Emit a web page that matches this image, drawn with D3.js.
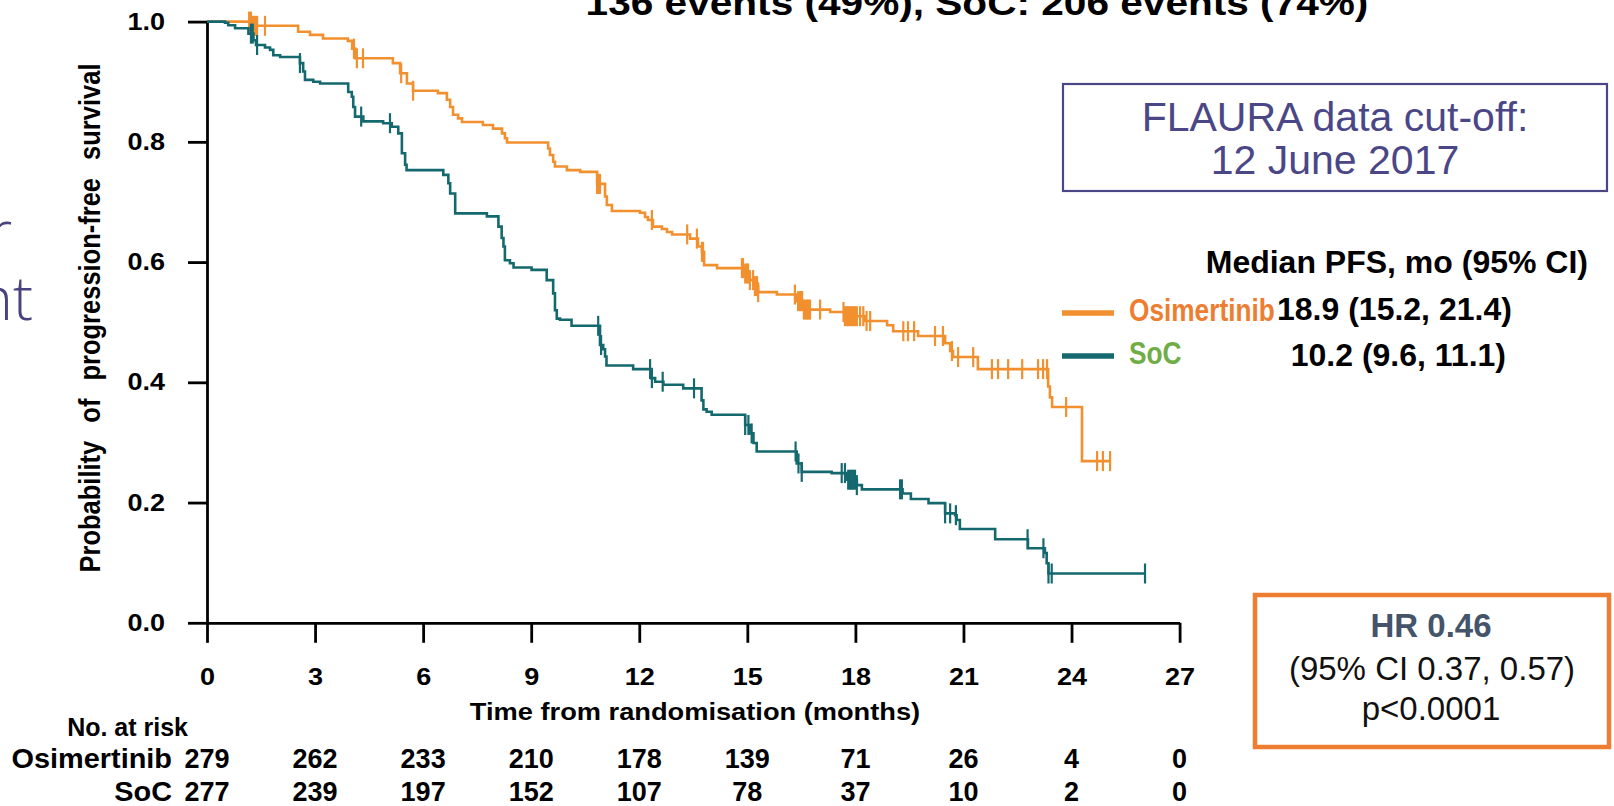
<!DOCTYPE html>
<html><head><meta charset="utf-8">
<script src="https://cdn.jsdelivr.net/npm/d3@7"></script>
<style>body{margin:0;background:#fff} svg{display:block}</style>
</head><body><svg id="c" width="1614" height="806"></svg>
<script>
// ---------------- data ----------------
const riskTimes = [0, 3, 6, 9, 12, 15, 18, 21, 24, 27];
const yTicks = [0, 0.2, 0.4, 0.6, 0.8, 1.0];
const osiRisk = [279, 262, 233, 210, 178, 139, 71, 26, 4, 0];
const socRisk = [277, 239, 197, 152, 107, 78, 37, 10, 2, 0];

const osiTime = [1.28, 2.53, 2.86, 3.22, 3.91, 4.03, 4.11, 5.16, 5.36, 5.55, 5.72, 6.41, 6.66, 6.75, 6.83, 6.97, 7.08, 7.66, 7.94, 8.19, 8.27, 8.33, 9.47, 9.52, 9.61, 9.66, 9.99, 10.36, 10.83, 11.05, 11.10, 11.24, 12.02, 12.16, 12.24, 12.38, 12.63, 12.77, 12.91, 13.41, 13.63, 13.74, 13.80, 14.16, 14.94, 15.07, 15.21, 15.30, 15.82, 16.38, 16.55, 17.30, 17.71, 18.27, 18.88, 19.05, 19.74, 20.49, 20.63, 20.71, 21.40, 23.35, 23.40, 23.46, 24.29];
const osiSurv = [0.993, 0.983, 0.978, 0.972, 0.968, 0.955, 0.939, 0.931, 0.914, 0.897, 0.885, 0.881, 0.870, 0.858, 0.845, 0.839, 0.833, 0.828, 0.822, 0.814, 0.806, 0.799, 0.789, 0.778, 0.767, 0.759, 0.753, 0.750, 0.730, 0.709, 0.695, 0.685, 0.682, 0.675, 0.670, 0.659, 0.655, 0.650, 0.646, 0.639, 0.626, 0.617, 0.595, 0.590, 0.581, 0.570, 0.560, 0.550, 0.546, 0.535, 0.521, 0.517, 0.510, 0.502, 0.495, 0.485, 0.477, 0.465, 0.452, 0.442, 0.422, 0.393, 0.375, 0.359, 0.269];
const osiEnd = 25.07;
const osiCensor = [1.17, 1.22, 1.28, 1.33, 1.39, 1.61, 4.08, 4.16, 4.33, 5.39, 5.72, 10.83, 10.88, 10.91, 12.35, 13.33, 13.60, 13.74, 13.77, 14.85, 14.88, 14.94, 14.99, 15.02, 15.07, 15.16, 15.21, 15.27, 15.30, 16.32, 16.41, 16.46, 16.49, 16.52, 16.57, 16.62, 16.66, 16.70, 16.74, 17.02, 17.67, 17.71, 17.76, 17.80, 17.85, 17.90, 17.94, 17.99, 18.04, 18.13, 18.22, 18.31, 18.41, 19.33, 19.46, 19.63, 20.21, 20.43, 20.68, 20.85, 21.27, 21.79, 21.96, 22.24, 22.63, 23.07, 23.21, 23.32, 23.85, 24.71, 24.87, 25.07];

const socTime = [0.50, 0.59, 0.78, 1.15, 1.29, 1.36, 1.61, 1.75, 1.84, 2.03, 2.58, 2.67, 2.72, 2.95, 3.14, 3.92, 4.02, 4.06, 4.11, 4.34, 4.89, 5.13, 5.31, 5.41, 5.50, 5.54, 6.56, 6.70, 6.75, 6.89, 7.77, 8.09, 8.18, 8.23, 8.27, 8.41, 8.51, 9.01, 9.43, 9.61, 9.66, 9.71, 9.80, 10.12, 10.91, 11.00, 11.05, 11.09, 11.83, 12.34, 12.44, 12.67, 13.22, 13.73, 13.78, 13.87, 14.01, 14.94, 15.07, 15.17, 15.26, 16.37, 16.51, 17.34, 17.76, 18.04, 18.18, 19.31, 19.54, 20.03, 20.49, 20.77, 20.81, 20.90, 21.88, 22.79, 23.26, 23.31, 23.36];
const socSurv = [0.998, 0.994, 0.989, 0.980, 0.969, 0.961, 0.957, 0.953, 0.944, 0.941, 0.931, 0.917, 0.903, 0.900, 0.897, 0.883, 0.875, 0.858, 0.842, 0.834, 0.831, 0.825, 0.814, 0.781, 0.762, 0.753, 0.745, 0.731, 0.714, 0.681, 0.676, 0.659, 0.640, 0.626, 0.603, 0.598, 0.591, 0.587, 0.570, 0.548, 0.520, 0.506, 0.504, 0.494, 0.462, 0.455, 0.443, 0.428, 0.422, 0.407, 0.401, 0.396, 0.390, 0.370, 0.355, 0.351, 0.346, 0.329, 0.315, 0.299, 0.285, 0.265, 0.251, 0.249, 0.238, 0.229, 0.222, 0.215, 0.206, 0.199, 0.182, 0.179, 0.171, 0.156, 0.139, 0.124, 0.116, 0.099, 0.082];
const socEnd = 26.04;
const socCensor = [1.22, 1.27, 1.39, 2.58, 4.28, 5.08, 10.86, 10.94, 12.30, 12.35, 12.65, 13.52, 14.94, 15.03, 15.12, 16.34, 16.42, 16.51, 17.62, 17.71, 17.80, 17.85, 17.90, 17.94, 17.99, 18.04, 19.24, 19.29, 20.49, 20.63, 20.79, 22.78, 23.22, 23.36, 23.45, 26.04];

const seriesNames = ["Osimertinib", "SoC"];
const medianText = ["18.9 (15.2, 21.4)", "10.2 (9.6, 11.1)"];

// ---------------- drawing ----------------
const FONT = "'Liberation Sans', Arial, Helvetica, sans-serif";
const ORANGE = "#F2902F", TEAL = "#14696F";
const svg = d3.select("#c");
const x = d3.scaleLinear().domain([0, 27]).range([207, 1179.6]);
const y = d3.scaleLinear().domain([0, 1]).range([622.8, 21.6]);

function txt(p, px, py, s, o = {}) {
  const sx = o.sx || 1;
  return p.append("text")
    .attr("transform", `translate(${px},${py}) scale(${sx},1)`)
    .attr("text-anchor", o.anchor || "start")
    .attr("font-family", o.family || FONT)
    .attr("font-size", o.size || 23)
    .attr("font-weight", o.weight || "normal")
    .attr("fill", o.fill || "#000")
    .attr("word-spacing", o.ws || 0)
    .text(s);
}

// remnants of slide title on the left (cut off by the frame)
txt(svg, 12, 253, "r", {size: 58, fill: "#48437F", anchor: "end", family: "'Open Sans', 'Noto Sans', sans-serif", weight: 300});
txt(svg, 33, 320, "nt", {size: 60, fill: "#48437F", anchor: "end", family: "'Open Sans', 'Noto Sans', sans-serif", weight: 300});

// title (cut off at top)
txt(svg, 977, 15, "136 events (49%), SoC: 206 events (74%)", {size: 35, weight: "bold", anchor: "middle", sx: 1.16});

// axes
const yAx = svg.append("g").attr("transform", "translate(207,0)")
  .call(d3.axisLeft(y).tickValues(yTicks).tickFormat(d3.format(".1f")).tickSize(19).tickSizeOuter(0));
const xAx = svg.append("g").attr("transform", "translate(0,622.8)")
  .call(d3.axisBottom(x).tickValues(riskTimes).tickFormat(d3.format("d")).tickSize(20).tickSizeOuter(0));
[yAx, xAx].forEach(g => {
  g.selectAll("path,line").attr("stroke", "#000").attr("stroke-width", 2.8);
  g.selectAll("text").attr("font-family", FONT).attr("font-size", 23.5).attr("font-weight", "bold").attr("fill", "#000");
});
yAx.selectAll("text").attr("x", -42 / 1.15).attr("transform", "scale(1.15,1)");
xAx.selectAll("text").attr("y", 62).attr("dy", 0).attr("transform", "scale(1.15,1)");

// axis titles
txt(svg, 695, 720, "Time from randomisation  (months)", {size: 23.7, weight: "bold", anchor: "middle", sx: 1.15});
svg.append("text")
  .attr("transform", "translate(100,318) rotate(-90) scale(1,1.15)")
  .attr("text-anchor", "middle").attr("font-family", FONT).attr("font-size", 25.5)
  .attr("font-weight", "bold").attr("word-spacing", 11)
  .text("Probability of progression-free survival");

// KM curves
function stepFn(times, surv) {
  return t => { let s = 1; for (let i = 0; i < times.length; i++) { if (times[i] <= t) s = surv[i]; } return s; };
}
function drawKM(times, surv, end, cens, color) {
  const pts = [[0, 1]].concat(times.map((t, i) => [t, surv[i]]));
  pts.push([end, surv[surv.length - 1]]);
  const line = d3.line().x(d => x(d[0])).y(d => y(d[1])).curve(d3.curveStepAfter);
  const g = svg.append("g");
  g.append("path").attr("d", line(pts)).attr("fill", "none").attr("stroke", color).attr("stroke-width", 2.6);
  const S = stepFn(times, surv);
  g.selectAll("line.c").data(cens).join("line")
    .attr("x1", d => x(d)).attr("x2", d => x(d))
    .attr("y1", d => y(S(d)) - 10).attr("y2", d => y(S(d)) + 10)
    .attr("stroke", color).attr("stroke-width", 2.2);
}
drawKM(osiTime, osiSurv, osiEnd, osiCensor, ORANGE);
drawKM(socTime, socSurv, socEnd, socCensor, TEAL);

// number at risk
txt(svg, 188, 736, "No. at risk", {size: 25, weight: "bold", anchor: "end"});
txt(svg, 172, 768, seriesNames[0], {size: 27, weight: "bold", anchor: "end", sx: 1.07});
txt(svg, 172, 801, seriesNames[1], {size: 27, weight: "bold", anchor: "end", sx: 1.07});
riskTimes.forEach((t, i) => {
  txt(svg, x(t), 768, osiRisk[i], {size: 27, weight: "bold", anchor: "middle"});
  txt(svg, x(t), 801, socRisk[i], {size: 27, weight: "bold", anchor: "middle"});
});

// FLAURA box
svg.append("rect").attr("x", 1063).attr("y", 84).attr("width", 544).attr("height", 107)
  .attr("fill", "none").attr("stroke", "#4B4787").attr("stroke-width", 2.2);
txt(svg, 1335, 131, "FLAURA data cut-off:", {size: 41, fill: "#4B4787", anchor: "middle"});
txt(svg, 1335, 174, "12 June 2017", {size: 41, fill: "#4B4787", anchor: "middle"});

// legend
txt(svg, 1588, 273, "Median PFS, mo (95% CI)", {size: 32, weight: "bold", anchor: "end"});
const legColors = [ORANGE, TEAL];
const legText = ["#ED7D31", "#70AD47"];
[313, 356].forEach((ly, i) => {
  svg.append("line").attr("x1", 1062).attr("x2", 1114).attr("y1", ly).attr("y2", ly)
    .attr("stroke", legColors[i]).attr("stroke-width", 5.5);
  txt(svg, 1129, ly + 8, seriesNames[i], {size: 32, weight: "bold", fill: legText[i], sx: 0.82});
});
txt(svg, 1277, 320, medianText[0], {size: 32, weight: "bold"});
txt(svg, 1506, 366, medianText[1], {size: 32, weight: "bold", anchor: "end"});

// HR box
svg.append("rect").attr("x", 1255).attr("y", 595).attr("width", 354).attr("height", 152)
  .attr("fill", "none").attr("stroke", "#ED7D31").attr("stroke-width", 4.5);
txt(svg, 1431, 637, "HR 0.46", {size: 33, weight: "bold", fill: "#44546A", anchor: "middle"});
txt(svg, 1432, 680, "(95% CI 0.37, 0.57)", {size: 33, fill: "#111", anchor: "middle"});
txt(svg, 1431, 720, "p<0.0001", {size: 33, fill: "#111", anchor: "middle"});
</script></body></html>
